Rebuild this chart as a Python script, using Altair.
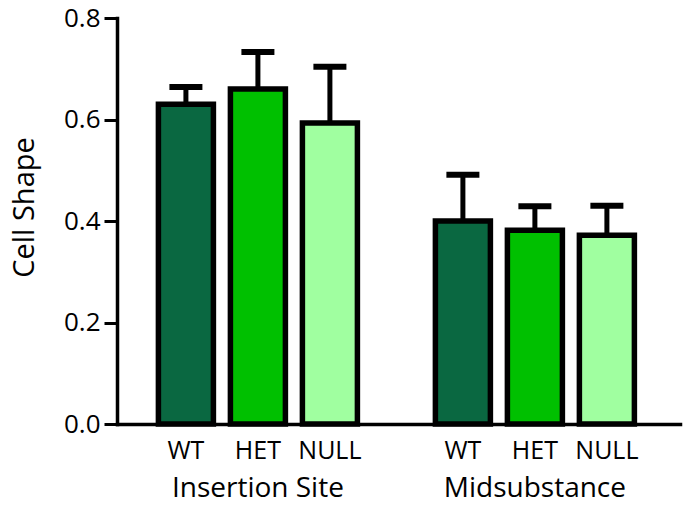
import altair as alt
import pandas as pd

groups = ["Insertion Site", "Insertion Site", "Insertion Site",
          "Midsubstance", "Midsubstance", "Midsubstance"]
genotypes = ["WT", "HET", "NULL", "WT", "HET", "NULL"]
means = [0.630, 0.660, 0.593, 0.400, 0.382, 0.372]
sems = [0.034, 0.073, 0.111, 0.091, 0.047, 0.058]

geno_order = ["WT", "HET", "NULL"]
group_order = ["Insertion Site", "Midsubstance"]
colors = ["#0a6841", "#00c000", "#a0ffa0"]

df = pd.DataFrame({"group": groups, "genotype": genotypes, "mean": means, "sem": sems})
df["upper"] = df["mean"] + df["sem"]

FONT = "Open Sans"

x_enc = alt.X("group:N", sort=group_order,
              scale=alt.Scale(domain=group_order, paddingInner=0.2202, paddingOuter=0.1264, align=0.47),
              axis=alt.Axis(title=None, ticks=False, tickSize=0, labelAngle=0,
                            labelFontSize=28, labelFont=FONT, labelColor="black",
                            labelPadding=72, labelBaseline="alphabetic",
                            labelLimit=400, labelOverlap=False,
                            domainColor="black", domainWidth=3.5))
xo_enc = alt.XOffset("genotype:N", sort=geno_order,
                     scale=alt.Scale(domain=geno_order, paddingInner=0.236, paddingOuter=0.118))
y_enc = alt.Y("mean:Q", scale=alt.Scale(domain=[0, 0.8], nice=False),
              axis=alt.Axis(title="Cell Shape", values=[0, 0.2, 0.4, 0.6, 0.8], format=".1f",
                            grid=False, domainColor="black", domainWidth=3.5,
                            tickColor="black", tickWidth=3, tickSize=13,
                            labelFontSize=26, labelFont=FONT, labelColor="black", labelPadding=4,
                            titleFontSize=29, titleFont=FONT, titleFontWeight="normal",
                            titleColor="black", titleX=-78, titleY=189))

base = alt.Chart(df)

bars = base.mark_bar(stroke="black", strokeWidth=5.5).encode(
    x=x_enc, xOffset=xo_enc, y=y_enc,
    color=alt.Color("genotype:N", scale=alt.Scale(domain=geno_order, range=colors), legend=None),
)

err = base.mark_rule(color="black", strokeWidth=5).encode(
    x=x_enc, xOffset=xo_enc, y="mean:Q", y2="upper:Q"
)

caps = base.mark_tick(color="black", thickness=6, size=33, opacity=1).encode(
    x=x_enc, xOffset=xo_enc, y="upper:Q"
)

labels = base.mark_text(font=FONT, fontSize=25, color="black", baseline="alphabetic").encode(
    x=x_enc, xOffset=xo_enc, y=alt.value(441), text="genotype:N"
)

chart = alt.layer(err, bars, caps, labels).properties(
    width=563, height=406,
    autosize=alt.AutoSizeParams(type="none"),
    padding={"left": 117, "top": 18, "right": 5, "bottom": 84},
).configure_view(stroke=None).configure_axis(domainCap="square")

chart.save("out.html", embed_options={"renderer": "svg", "actions": False})
